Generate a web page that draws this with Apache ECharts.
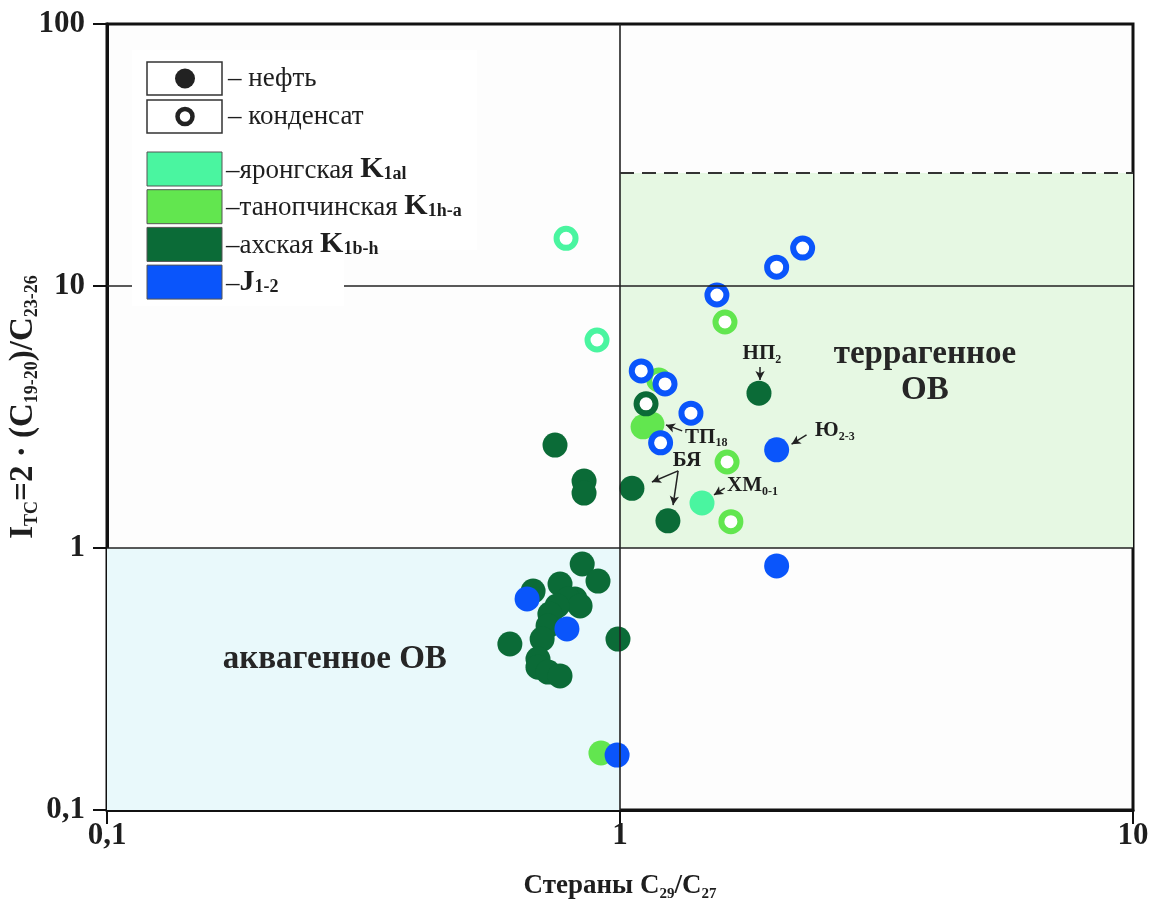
<!DOCTYPE html>
<html>
<head>
<meta charset="utf-8">
<script src="https://cdn.jsdelivr.net/npm/echarts@6/dist/echarts.min.js"></script>
<style>
html,body{margin:0;padding:0;background:#fff;}
#chart{width:1150px;height:904px;}
</style>
</head>
<body>
<div id="chart"></div>
<script>
// ---- data ----
const xTicks = [0.1, 1, 10];
const yTicks = [0.1, 1, 10, 100];

// яронгская K1al
const yarongOil  = [[1.445, 1.485]];
const yarongCond = [[0.785, 15.2], [0.902, 6.22]];
// танопчинская K1h-a
const tanopchOil  = [[1.109, 2.90], [1.154, 2.97], [0.918, 0.165]];
const tanopchCond = [[1.19, 4.38], [1.602, 7.29], [1.617, 2.13], [1.645, 1.26]];
// ахская K1b-h
const akhskOil = [
  [1.866, 3.90], [0.747, 2.47], [0.851, 1.80], [0.851, 1.62], [1.055, 1.69], [1.24, 1.27],
  [0.844, 0.869], [0.906, 0.748], [0.677, 0.685], [0.764, 0.729], [0.817, 0.639], [0.792, 0.639],
  [0.836, 0.601], [0.754, 0.601], [0.730, 0.560], [0.724, 0.504], [0.610, 0.430], [0.991, 0.449],
  [0.705, 0.449], [0.692, 0.377], [0.692, 0.351], [0.724, 0.336], [0.764, 0.325]
];
const akhskCond = [[1.124, 3.55]];
// J1-2
const jOil  = [[2.02, 2.37], [2.02, 0.854], [0.987, 0.162], [0.659, 0.639], [0.788, 0.491]];
const jCond = [[1.545, 9.24], [2.02, 11.8], [2.27, 13.96], [1.10, 4.74], [1.224, 4.23], [1.375, 3.27], [1.20, 2.52]];

// boundaries
const terrTop = 27;

// annotations
const annLabels = [
  {name: 'НП', sub: '2', pos: [1.891, 5.50], align: 'center'},
  {name: 'Ю', sub: '2-3', pos: [2.40, 2.80], align: 'left'},
  {name: 'ТП', sub: '18', pos: [1.339, 2.65], align: 'left'},
  {name: 'БЯ', sub: '', pos: [1.351, 2.15], align: 'center'},
  {name: 'ХМ', sub: '0-1', pos: [1.617, 1.73], align: 'left'}
];
const annArrows = [
  [[1.875, 4.91], [1.875, 4.38]],
  [[2.31, 2.70], [2.16, 2.49]],
  [[1.322, 2.80], [1.229, 2.95]],
  [[1.298, 1.97], [1.154, 1.786]],
  [[1.298, 1.97], [1.269, 1.459]],
  [[1.600, 1.694], [1.525, 1.594]]
];
const regionLabels = [
  {text: 'террагенное\nОВ', pos: [3.93, 4.66]},
  {text: 'аквагенное ОВ', pos: [0.278, 0.377]}
];

const colors = {yarong: '#4af5a0', tanopch: '#62e64f', akhsk: '#0b6b37', j: '#0a55fb'};
const legendRows = [
  {key: 'yarong', name: 'яронгская ', k: 'K', sub: '1al'},
  {key: 'tanopch', name: 'танопчинская ', k: 'K', sub: '1h-a'},
  {key: 'akhsk', name: 'ахская ', k: 'K', sub: '1b-h'},
  {key: 'j', name: '', k: 'J', sub: '1-2'}
];

const SERIF = '"Liberation Serif", "DejaVu Serif", serif';
const TXT = '#1e1e1e';
const chart = echarts.init(document.getElementById('chart'));

function oilSeries(name, data, color) {
  return {name, type: 'scatter', data, symbol: 'circle', symbolSize: 25,
    itemStyle: {color: color, opacity: 1}, z: 3};
}
function condSeries(name, data, color) {
  return {name, type: 'scatter', data, symbol: 'circle', symbolSize: 19,
    itemStyle: {color: '#ffffff', borderColor: color, borderWidth: 6, opacity: 1}, z: 4};
}

const fmtNum = v => String(v).replace('.', ',');

const axisCommon = {
  type: 'log', logBase: 10,
  axisLine: {show: true, lineStyle: {color: '#111', width: 3}},
  axisTick: {show: true, length: 14, lineStyle: {color: '#111', width: 2}},
  minorTick: {show: false},
  splitLine: {show: false},
  nameMoveOverlap: false,
  axisLabel: {fontFamily: SERIF, fontWeight: 'bold', fontSize: 31, color: TXT, formatter: fmtNum}
};

const legendGraphic = [];
legendGraphic.push({type: 'rect', shape: {x: 132, y: 50, width: 345, height: 200}, style: {fill: '#ffffff'}, z: 100});
legendGraphic.push({type: 'rect', shape: {x: 132, y: 50, width: 212, height: 256}, style: {fill: '#ffffff'}, z: 100});
legendGraphic.push({type: 'rect', shape: {x: 147, y: 62, width: 75, height: 33}, style: {fill: '#fff', stroke: '#333', lineWidth: 1.5}, z: 101});
legendGraphic.push({type: 'circle', shape: {cx: 185, cy: 78.5, r: 10}, style: {fill: '#222'}, z: 102});
legendGraphic.push({type: 'text', x: 228, y: 78.5, style: {text: '– нефть', font: '27px ' + SERIF, fill: TXT, verticalAlign: 'middle'}, z: 102});
legendGraphic.push({type: 'rect', shape: {x: 147, y: 100, width: 75, height: 33}, style: {fill: '#fff', stroke: '#333', lineWidth: 1.5}, z: 101});
legendGraphic.push({type: 'circle', shape: {cx: 185, cy: 116.5, r: 7.5}, style: {fill: '#fff', stroke: '#222', lineWidth: 4.5}, z: 102});
legendGraphic.push({type: 'text', x: 228, y: 116.5, style: {text: '– конденсат', font: '27px ' + SERIF, fill: TXT, verticalAlign: 'middle'}, z: 102});
legendRows.forEach((r, i) => {
  const y = 152 + i * 37.7;
  legendGraphic.push({type: 'rect', shape: {x: 147, y: y, width: 75, height: 34}, style: {fill: colors[r.key], stroke: '#555', lineWidth: 1}, z: 101});
  legendGraphic.push({type: 'text', x: 226, y: y + 17,
    style: {
      text: '{n|–' + r.name + '}{k|' + r.k + '}{s|' + r.sub + '}',
      verticalAlign: 'middle',
      rich: {
        n: {font: '27px ' + SERIF, fill: TXT, lineHeight: 30, verticalAlign: 'bottom'},
        k: {font: 'bold 30px ' + SERIF, fill: TXT, lineHeight: 30, verticalAlign: 'bottom'},
        s: {font: 'bold 18px ' + SERIF, fill: TXT, lineHeight: 30, verticalAlign: 'bottom', padding: [0, 0, 1, 0]}
      }
    }, z: 102});
});

const option = {
  backgroundColor: '#ffffff',
  animation: false,
  grid: {left: 107, right: 17, top: 24, bottom: 94, show: true, borderColor: '#111', borderWidth: 3,
    backgroundColor: '#fdfdfd', outerBoundsMode: 'none', containLabel: false},
  xAxis: Object.assign({}, axisCommon, {
    min: xTicks[0], max: xTicks[xTicks.length - 1],
    axisLabel: Object.assign({}, axisCommon.axisLabel, {margin: 10}),
    name: '{m|Стераны C}{s|29}{m|/C}{s|27}',
    nameLocation: 'middle', nameGap: 60,
    nameTextStyle: {
      rich: {
        m: {fontFamily: SERIF, fontWeight: 'bold', fontSize: 27, color: TXT, lineHeight: 32, verticalAlign: 'middle'},
        s: {fontFamily: SERIF, fontWeight: 'bold', fontSize: 15, color: TXT, lineHeight: 32, verticalAlign: 'bottom'}
      }
    }
  }),
  yAxis: Object.assign({}, axisCommon, {
    min: yTicks[0], max: yTicks[yTicks.length - 1],
    axisLabel: Object.assign({}, axisCommon.axisLabel, {margin: 22}),
    name: '{m|I}{s|TC}{m|=2 · (C}{s|19-20}{m|)/C}{s|23-26}',
    nameLocation: 'middle', nameGap: 66, nameRotate: 90,
    nameTextStyle: {
      padding: [0, 0, 0, 20],
      rich: {
        m: {fontFamily: SERIF, fontWeight: 'bold', fontSize: 33, color: TXT, lineHeight: 36, verticalAlign: 'middle'},
        s: {fontFamily: SERIF, fontWeight: 'bold', fontSize: 18, color: TXT, lineHeight: 36, verticalAlign: 'bottom'}
      }
    }
  }),
  graphic: legendGraphic,
  series: [
    {
      name: 'bg', type: 'scatter', data: [], silent: true, z: 1,
      markArea: {
        silent: true,
        data: [
          [{coord: [0.1, 0.1], itemStyle: {color: '#e9f9fb'}}, {coord: [1, 1]}],
          [{coord: [1, 1], itemStyle: {color: '#e6f8e3'}}, {coord: [10, terrTop]}]
        ]
      },
      markLine: {
        silent: true, symbol: ['none', 'none'], label: {show: false},
        lineStyle: {color: '#222', width: 1.6, type: 'solid'},
        data: [
          {yAxis: 1}, {yAxis: 10}, {xAxis: 1},
          [{coord: [1, terrTop], lineStyle: {type: [14, 8], color: '#333', width: 2}}, {coord: [10, terrTop]}]
        ]
      }
    },
    oilSeries('yarongOil', yarongOil, colors.yarong),
    condSeries('yarongCond', yarongCond, colors.yarong),
    oilSeries('tanopchOil', tanopchOil, colors.tanopch),
    condSeries('tanopchCond', tanopchCond, colors.tanopch),
    oilSeries('akhskOil', akhskOil, colors.akhsk),
    condSeries('akhskCond', akhskCond, colors.akhsk),
    oilSeries('jOil', jOil, colors.j),
    condSeries('jCond', jCond, colors.j),
    {
      name: 'annotations', type: 'scatter', symbolSize: 1, z: 6, silent: true,
      itemStyle: {color: 'transparent', opacity: 1},
      data: annLabels.map(a => ({
        value: a.pos,
        label: {
          show: true, position: 'inside', align: a.align, verticalAlign: 'middle',
          formatter: '{m|' + a.name + '}' + (a.sub ? '{s|' + a.sub + '}' : ''),
          rich: {
            m: {fontFamily: SERIF, fontWeight: 'bold', fontSize: 21, color: TXT, lineHeight: 24, verticalAlign: 'middle'},
            s: {fontFamily: SERIF, fontWeight: 'bold', fontSize: 12, color: TXT, lineHeight: 24, verticalAlign: 'bottom'}
          }
        }
      })),
      markLine: {
        silent: true, symbol: ['none', 'arrow'], symbolSize: [7, 9], label: {show: false},
        lineStyle: {color: '#222', width: 1.5, type: 'solid'},
        data: annArrows.map(a => [{coord: a[0]}, {coord: a[1]}])
      }
    },
    {
      name: 'regions', type: 'scatter', symbolSize: 1, z: 6, silent: true,
      itemStyle: {color: 'transparent', opacity: 1},
      data: regionLabels.map(r => ({
        value: r.pos,
        label: {show: true, position: 'inside', formatter: r.text, fontFamily: SERIF, fontWeight: 'bold',
          fontSize: 33, color: '#262626', lineHeight: 36, align: 'center', verticalAlign: 'middle'}
      }))
    }
  ]
};
chart.setOption(option);
</script>
</body>
</html>
